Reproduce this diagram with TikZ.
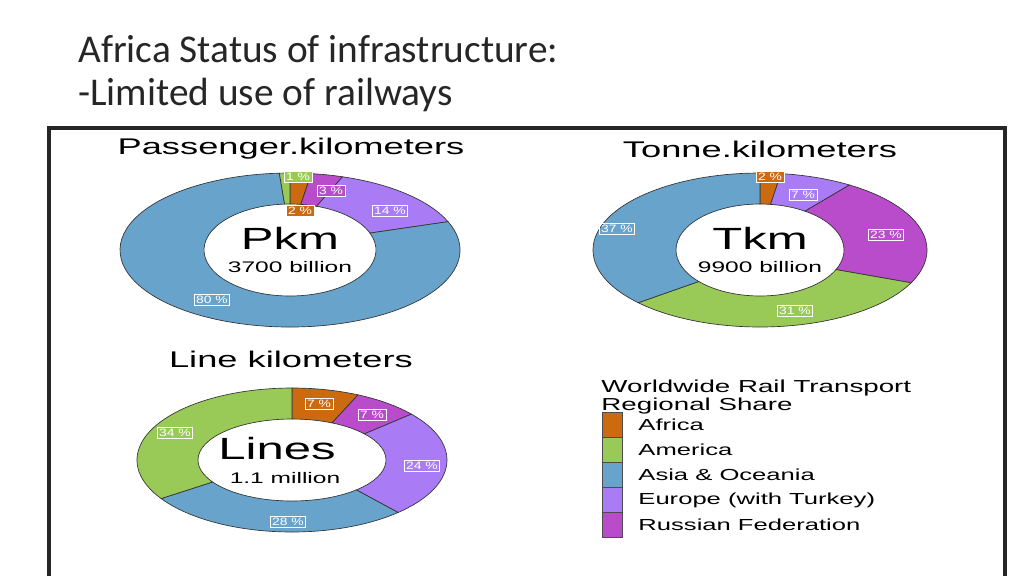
\documentclass[tikz,border=0pt]{standalone}
\usepackage{fontspec}
\setmainfont{Liberation Sans}
\newfontfamily\titlefont{Carlito}
\begin{document}
\begin{tikzpicture}[x=0.75pt,y=0.75pt]
\definecolor{cafr}{HTML}{CC6A10}
\definecolor{camr}{HTML}{99C957}
\definecolor{casi}{HTML}{68A3CB}
\definecolor{ceur}{HTML}{A97CF5}
\definecolor{crus}{HTML}{B94CCB}
\definecolor{ctxt}{HTML}{262626}
\tikzset{
  stxt/.style={xscale=1.6, transform shape, inner sep=0pt},
  pct/.style={draw=white, line width=0.6pt, text=white, font=\fontsize{8}{8}\selectfont, xscale=1.3, transform shape, inner sep=1.2pt},
  swatch/.style={draw=black!70, line width=0.5pt, minimum width=15pt, minimum height=18.75pt, inner sep=0pt},
}
\newcommand{\myslice}[9]{%
  \draw[fill=#9, draw=black!80, line width=0.5pt]
    ({#1+#3*cos(#7)},{#2+#4*sin(#7)}) arc[start angle=#7, end angle=#8, x radius=#3, y radius=#4]
    -- ({#1+#5*cos(#8)},{#2+#6*sin(#8)}) arc[start angle=#8, end angle=#7, x radius=#5, y radius=#6] -- cycle;}
\useasboundingbox (0,0) rectangle (1024,-576);
\fill[white] (0,0) rectangle (1024,-576);
% slide title
\node[anchor=base west, inner sep=0pt, text=ctxt, font=\titlefont\fontsize{29.5}{32}\selectfont] (t1) at (78,-62) {Africa Status of infrastructure:};
\node[anchor=base west, inner sep=0pt, text=ctxt, font=\titlefont\fontsize{29.5}{32}\selectfont] (t2) at (78,-105) {-Limited use of railways};
% frame
\draw[black!85, line width=3pt] (49,-576) -- (49,-128) -- (1005,-128) -- (1005,-576);
% Pkm donut
\myslice{290}{-250}{170}{77}{86}{46}{90}{82.8}{cafr}
\myslice{290}{-250}{170}{77}{86}{46}{82.8}{72}{crus}
\myslice{290}{-250}{170}{77}{86}{46}{72}{21.6}{ceur}
\myslice{290}{-250}{170}{77}{86}{46}{21.6}{-266.4}{casi}
\myslice{290}{-250}{170}{77}{86}{46}{-266.4}{-270}{camr}
\node[stxt, font=\fontsize{23}{23}\selectfont] (pk) at (290,-238) {Pkm};
\node[stxt, font=\fontsize{11.5}{11.5}\selectfont] (pkb) at (290,-267) {3700 billion};
\node[stxt, font=\fontsize{17}{17}\selectfont] (pkt) at (291,-149) {Passenger.kilometers};
\node[pct, fill=camr] (p1) at (298,-177) {1 \%};
\node[pct, fill=crus] (p3) at (331,-191) {3 \%};
\node[pct, fill=cafr] (p2) at (300,-211) {2 \%};
\node[pct] (p14) at (390,-211) {14 \%};
\node[pct] (p80) at (212,-300) {80 \%};
% Tkm donut
\myslice{760}{-250}{167}{77}{84}{46}{90}{82.8}{cafr}
\myslice{760}{-250}{167}{77}{84}{46}{82.8}{57.6}{ceur}
\myslice{760}{-250}{167}{77}{84}{46}{57.6}{-25.2}{crus}
\myslice{760}{-250}{167}{77}{84}{46}{-25.2}{-136.8}{camr}
\myslice{760}{-250}{167}{77}{84}{46}{-136.8}{-270}{casi}
\node[stxt, font=\fontsize{23}{23}\selectfont] (tk) at (760,-238) {Tkm};
\node[stxt, font=\fontsize{11.5}{11.5}\selectfont] (tkb) at (760,-267) {9900 billion};
\node[stxt, font=\fontsize{17}{17}\selectfont] (tkt) at (760,-149) {Tonne.kilometers};
\node[pct, fill=cafr] (q2) at (770,-177) {2 \%};
\node[pct] (q7) at (803,-195) {7 \%};
\node[pct] (q37) at (617,-229) {37 \%};
\node[pct] (q23) at (886,-235) {23 \%};
\node[pct] (q31) at (795,-311) {31 \%};
% Lines donut
\myslice{292}{-460}{155}{72}{94}{41}{90}{64.8}{cafr}
\myslice{292}{-460}{155}{72}{94}{41}{64.8}{39.6}{crus}
\myslice{292}{-460}{155}{72}{94}{41}{39.6}{-46.8}{ceur}
\myslice{292}{-460}{155}{72}{94}{41}{-46.8}{-147.6}{casi}
\myslice{292}{-460}{155}{72}{94}{41}{-147.6}{-270}{camr}
\node[stxt, font=\fontsize{23}{23}\selectfont] (ln) at (277,-449) {Lines};
\node[stxt, font=\fontsize{11.5}{11.5}\selectfont] (lnb) at (285,-478) {1.1 million};
\node[stxt, font=\fontsize{17}{17}\selectfont] (lnt) at (291,-359) {Line kilometers};
\node[pct, fill=cafr] (l7a) at (319,-404) {7 \%};
\node[pct, fill=crus] (l7b) at (372,-415) {7 \%};
\node[pct] (l34) at (175,-433) {34 \%};
\node[pct] (l24) at (422,-466) {24 \%};
\node[pct] (l28) at (288,-522) {28 \%};
% legend
\node[stxt, anchor=north west, align=left, font=\fontsize{13}{11}\selectfont] (lgt) at (601,-380) {Worldwide Rail Transport\\Regional Share};
\foreach \c/\t [count=\i] in {cafr/Africa, camr/America, casi/Asia \& Oceania, ceur/Europe (with Turkey), crus/Russian Federation}{
  \node[swatch, fill=\c] (sw\i) at (612,{-425-25*(\i-1)}) {};
  \node[stxt, anchor=west, font=\fontsize{12}{12}\selectfont] (lg\i) at (638,{-425-25*(\i-1)}) {\t};
}
\end{tikzpicture}
\end{document}
